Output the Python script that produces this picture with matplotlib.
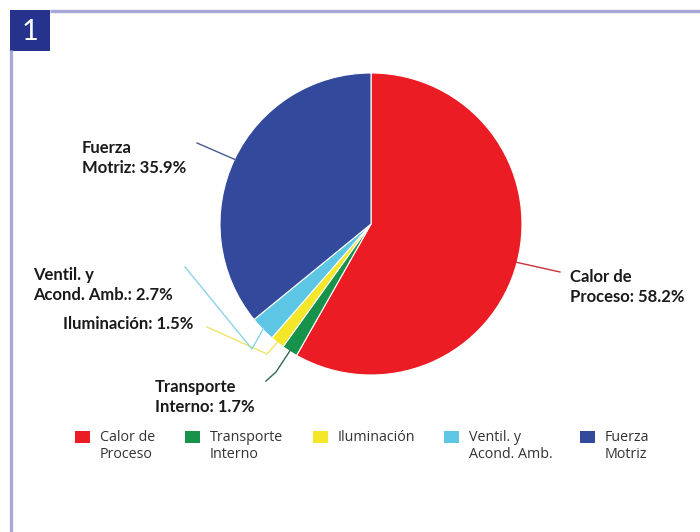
import numpy as np
import matplotlib
matplotlib.use("Agg")
import matplotlib.pyplot as plt
from matplotlib.patches import Rectangle

# Energy use by category (%)
categories = ["Calor de Proceso", "Transporte Interno", "Iluminación",
              "Ventil. y Acond. Amb.", "Fuerza Motriz"]
values = [58.2, 1.7, 1.5, 2.7, 35.9]
colors = ["#EC1C24", "#16924A", "#F4E629", "#5CC6E4", "#33499C"]
pie_labels = ["Calor de\nProceso: 58.2%", "Transporte\nInterno: 1.7%",
              "Iluminación: 1.5%", "Ventil. y\nAcond. Amb.: 2.7%",
              "Fuerza\nMotriz: 35.9%"]
legend_labels = ["Calor de\nProceso", "Transporte\nInterno", "Iluminación",
                 "Ventil. y\nAcond. Amb.", "Fuerza\nMotriz"]

W, H = 700, 532
fig = plt.figure(figsize=(W / 100, H / 100), dpi=100)
ax = fig.add_axes([0, 0, 1, 1])

def Y(y):
    return H - y

# pie
cx, cy, R = 371, Y(224), 151
wedges, _ = ax.pie(values, colors=colors, startangle=90, counterclock=False,
                   center=(cx, cy), radius=R, frame=True,
                   wedgeprops=dict(edgecolor="white", linewidth=0.8))
ax.set_xlim(0, W)
ax.set_ylim(0, H)
ax.set_aspect("equal")
ax.axis("off")

# frame and badge
frame_c = "#AAA8D8"
ax.plot([50, W], [Y(11), Y(11)], color=frame_c, lw=2.4, solid_capstyle="butt")
ax.plot([11, 11], [Y(50), 0], color=frame_c, lw=2.4, solid_capstyle="butt")
ax.add_patch(Rectangle((10, Y(51)), 40, 41, color="#26338C", lw=0))
ax.text(30, Y(32), "1", color="white", ha="center", va="center",
        fontsize=21, family="Lato")

def edge_point(w, r=1.0):
    a = np.deg2rad((w.theta1 + w.theta2) / 2)
    return cx + R * r * np.cos(a), cy + R * r * np.sin(a)

lab_font = dict(family="Lato", fontweight="bold", fontsize=12,
                color="#1a1a1a", linespacing=1.32)

# leader paths: label-side points (after the wedge anchor)
leaders = [
    [(560, 272)],
    [(276, 372), (266, 381)],
    [(267, 354), (207, 327)],
    [(252, 349), (185, 267)],
    [(197, 143)],
]
label_pos = [
    (570, 287),
    (155, 397),
    (63, 324),
    (33, 285),
    (82, 158),
]
line_cols = ["#C8323A", "#2E6B4F", "#EEE36A", "#8CD3EA", "#4A5A8C"]

for w, pts, (lx, ly), lab, lc in zip(wedges, leaders, label_pos,
                                     pie_labels, line_cols):
    x0, y0 = edge_point(w, 0.99)
    xs = [x0] + [p[0] for p in pts]
    ys = [y0] + [Y(p[1]) for p in pts]
    ax.plot(xs, ys, color=lc, lw=1.0, solid_joinstyle="round")
    ax.text(lx, Y(ly), lab, ha="left", va="center", **lab_font)

# legend
leg_x = [75, 185, 313, 444, 580]
for x, c, lab in zip(leg_x, colors, legend_labels):
    ax.add_patch(Rectangle((x, Y(443)), 15, 12, color=c, lw=0))
    ax.text(x + 25, Y(430), lab, ha="left", va="top", fontsize=10.3,
            family="Open Sans", color="#333333", linespacing=1.2)

fig.savefig("out.png", dpi=100)
